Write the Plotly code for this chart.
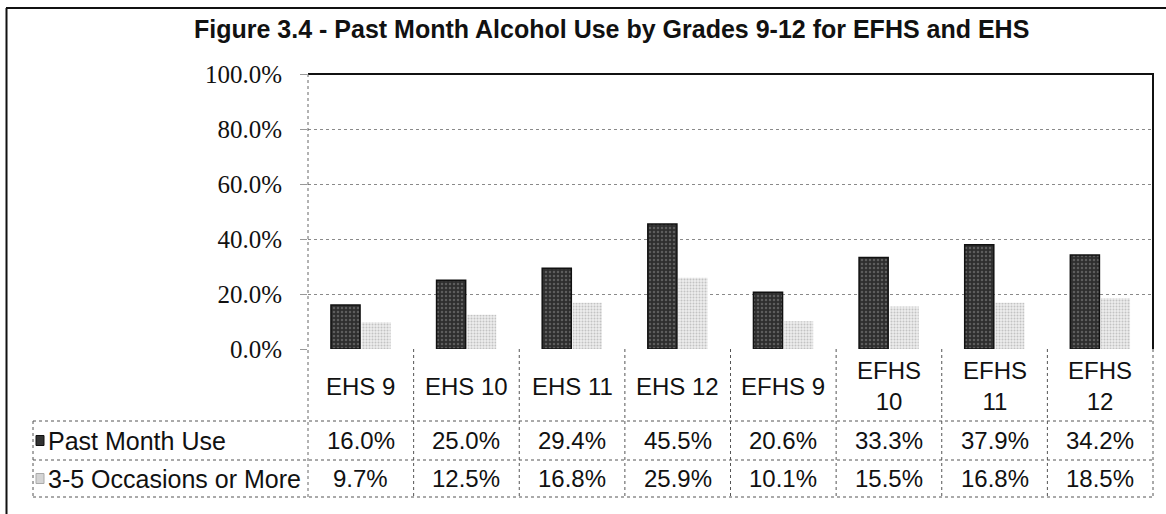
import plotly.graph_objects as go

# ---- data ----
categories = ["EHS 9", "EHS 10", "EHS 11", "EHS 12", "EFHS 9", "EFHS 10", "EFHS 11", "EFHS 12"]
category_labels = ["EHS 9", "EHS 10", "EHS 11", "EHS 12", "EFHS 9", "EFHS<br>10", "EFHS<br>11", "EFHS<br>12"]
past_month_use = [16.0, 25.0, 29.4, 45.5, 20.6, 33.3, 37.9, 34.2]
occasions_3_5 = [9.7, 12.5, 16.8, 25.9, 10.1, 15.5, 16.8, 18.5]
series_names = ["Past Month Use", "3-5 Occasions or More"]
y_ticks = [0, 0.2, 0.4, 0.6, 0.8, 1.0]
title_text = "Figure 3.4 - Past Month Alcohol Use by Grades 9-12 for EFHS and EHS"

# ---- geometry (pixels) ----
W, H = 1166, 514
PX_L, PX_R = 308, 1153
PY_T, PY_B = 74, 349
ROW1_T, ROW2_T, TBL_B = 421, 460, 497
LEG_L = 33

def fx(px):
    return px / W

def fy(py):
    return 1 - py / H

SANS = "Liberation Sans, Arial, sans-serif"
SERIF = "Liberation Serif, Times New Roman, serif"
TXT = "#111111"
GRID = "#8a8a8a"
TFS = 24

fig = go.Figure()
fig.add_trace(go.Bar(
    x=categories, y=[v / 100 for v in past_month_use], name=series_names[0],
    marker=dict(color="#3a3a3a", line=dict(color="#111111", width=1.5),
                pattern=dict(shape=".", bgcolor="#2e2e2e", fgcolor="#8c8c8c", size=4, solidity=0.3)),
))
fig.add_trace(go.Bar(
    x=categories, y=[v / 100 for v in occasions_3_5], name=series_names[1],
    marker=dict(color="#d0d0d0", line=dict(width=0),
                pattern=dict(shape=".", bgcolor="#ececec", fgcolor="#9a9a9a", size=3, solidity=0.35)),
))

fig.update_layout(
    width=W, height=H, autosize=False,
    margin=dict(l=0, r=0, t=0, b=0),
    paper_bgcolor="white", plot_bgcolor="white",
    barmode="group", bargap=0.42, bargroupgap=0.05,
    showlegend=False,
    xaxis=dict(domain=[fx(PX_L), fx(PX_R)], categoryorder="array", categoryarray=categories,
               showticklabels=False, showgrid=False, zeroline=False, showline=False, ticks="",
               automargin=False),
    yaxis=dict(domain=[fy(PY_B), fy(PY_T)], range=[0, 1], tickvals=y_ticks, tickformat=".1%",
               showgrid=True, gridcolor=GRID, gridwidth=1, griddash="dot",
               zeroline=False, showline=False, ticks="outside", ticklen=7, tickcolor="#999999",
               ticklabelstandoff=13,
               tickfont=dict(family=SERIF, size=25, color=TXT), automargin=False),
)

shapes = []
# outer frame
shapes.append(dict(type="line", xref="paper", yref="paper", x0=fx(6), x1=fx(1170), y0=fy(8), y1=fy(8),
                   line=dict(color="#111111", width=2)))
shapes.append(dict(type="line", xref="paper", yref="paper", x0=fx(6.5), x1=fx(6.5), y0=fy(8), y1=fy(520),
                   line=dict(color="#111111", width=2)))
# plot area top and right (solid), left axis (dotted)
shapes.append(dict(type="line", xref="paper", yref="paper", x0=fx(PX_L), x1=fx(PX_R), y0=fy(PY_T), y1=fy(PY_T),
                   line=dict(color="#111111", width=2)))
shapes.append(dict(type="line", xref="paper", yref="paper", x0=fx(PX_R), x1=fx(PX_R), y0=fy(PY_T - 1), y1=fy(PY_B),
                   line=dict(color="#111111", width=2)))
shapes.append(dict(type="line", xref="paper", yref="paper", x0=fx(PX_L), x1=fx(PX_L), y0=fy(PY_T), y1=fy(TBL_B),
                   line=dict(color="#666666", width=1, dash="dot")))
# table horizontal lines
for yy in (ROW1_T, ROW2_T, TBL_B):
    shapes.append(dict(type="line", xref="paper", yref="paper", x0=fx(LEG_L), x1=fx(PX_R), y0=fy(yy), y1=fy(yy),
                       line=dict(color="#555555", width=1, dash="dot")))
# legend column left border
shapes.append(dict(type="line", xref="paper", yref="paper", x0=fx(LEG_L), x1=fx(LEG_L), y0=fy(ROW1_T), y1=fy(TBL_B),
                   line=dict(color="#555555", width=1, dash="dot")))
# table vertical lines
n = len(categories)
colw = (PX_R - PX_L) / n
for i in range(1, n + 1):
    xx = PX_L + i * colw
    shapes.append(dict(type="line", xref="paper", yref="paper", x0=fx(xx), x1=fx(xx), y0=fy(PY_B), y1=fy(TBL_B),
                       line=dict(color="#555555", width=1, dash="dot")))
# legend keys
key_colors = ["#333333", "#d4d4d4"]
key_lines = ["#111111", "#aaaaaa"]
row_centers = [(ROW1_T + ROW2_T) / 2, (ROW2_T + TBL_B) / 2]
for k in range(2):
    yc = row_centers[k]
    shapes.append(dict(type="rect", xref="paper", yref="paper", x0=fx(36), x1=fx(44), y0=fy(yc - 5), y1=fy(yc + 5),
                       fillcolor=key_colors[k], line=dict(color=key_lines[k], width=1)))
fig.update_layout(shapes=shapes)

ann = []
ann.append(dict(text="<b>" + title_text + "</b>", xref="paper", yref="paper", x=fx(611), y=fy(29), showarrow=False,
                xanchor="center", yanchor="middle", font=dict(family=SANS, size=25, color=TXT)))
for i in range(n):
    xc = PX_L + (i + 0.5) * colw
    ann.append(dict(text=category_labels[i], xref="paper", yref="paper", x=fx(xc), y=fy((PY_B + ROW1_T) / 2 + 1),
                    showarrow=False, xanchor="center", yanchor="middle", align="center",
                    font=dict(family=SANS, size=TFS, color=TXT)))
    ann.append(dict(text=f"{past_month_use[i]:.1f}%", xref="paper", yref="paper", x=fx(xc), y=fy(row_centers[0]),
                    showarrow=False, xanchor="center", yanchor="middle", font=dict(family=SANS, size=TFS, color=TXT)))
    ann.append(dict(text=f"{occasions_3_5[i]:.1f}%", xref="paper", yref="paper", x=fx(xc), y=fy(row_centers[1]),
                    showarrow=False, xanchor="center", yanchor="middle", font=dict(family=SANS, size=TFS, color=TXT)))
for k in range(2):
    ann.append(dict(text=series_names[k], xref="paper", yref="paper", x=fx(46), y=fy(row_centers[k]),
                    showarrow=False, xanchor="left", yanchor="middle", font=dict(family=SANS, size=TFS + 1, color=TXT)))
fig.update_layout(annotations=ann)

fig.write_html("out.html", config={"displayModeBar": False},
               post_script="document.body.style.margin='0';document.body.style.overflow='hidden';")
